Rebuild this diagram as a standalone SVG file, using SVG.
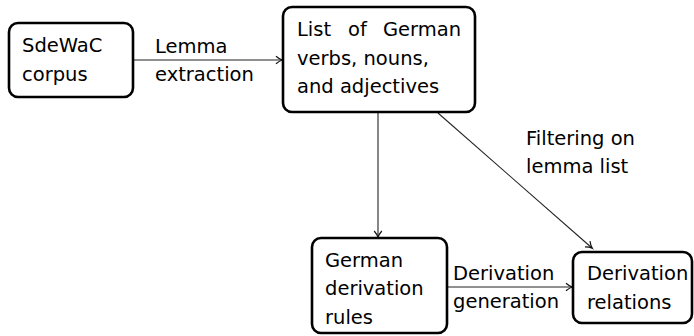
<svg xmlns="http://www.w3.org/2000/svg" width="694" height="336" viewBox="0 0 694 336">
<defs>
<style>
.box{fill:#fff;stroke:#000;stroke-width:2.6}
.t{font-family:"DejaVu Sans",sans-serif;font-size:19.5px;fill:#000}
.c{fill:none;stroke:#222;stroke-width:1.1}
</style>
<marker id="ah" markerWidth="10" markerHeight="10" refX="7.5" refY="5" orient="auto" markerUnits="userSpaceOnUse">
<path d="M1.5,1.2 Q5,4.2 7.8,5 Q5,5.8 1.5,8.8" fill="none" stroke="#111" stroke-width="1.2"/>
</marker>
</defs>
<rect width="694" height="336" fill="#fff"/>
<g id="connectors">
<line class="c" x1="133" y1="60" x2="282" y2="60" marker-end="url(#ah)"/>
<line class="c" x1="378" y1="112" x2="378" y2="237" marker-end="url(#ah)"/>
<line class="c" x1="438" y1="113" x2="592" y2="248" marker-end="url(#ah)"/>
<line class="c" x1="447" y1="287" x2="572" y2="287" marker-end="url(#ah)"/>
<text class="t" x="155" y="53">Lemma</text>
<text class="t" x="155" y="81">extraction</text>
<text class="t" x="526" y="145">Filtering on</text>
<text class="t" x="526" y="173">lemma list</text>
<text class="t" x="453" y="280">Derivation</text>
<text class="t" x="453" y="308">generation</text>
</g>
<g id="sdewac">
<rect class="box" x="9" y="23" width="124" height="74" rx="9"/>
<text class="t" x="22" y="52">SdeWaC</text>
<text class="t" x="22" y="81">corpus</text>
</g>
<g id="lemmalist">
<rect class="box" x="283" y="7" width="192" height="105" rx="9"/>
<text class="t" x="297" y="36">List</text>
<text class="t" x="348" y="36">of</text>
<text class="t" x="383" y="36">German</text>
<text class="t" x="297" y="65">verbs, nouns,</text>
<text class="t" x="297" y="93">and adjectives</text>
</g>
<g id="rules">
<rect class="box" x="312" y="238" width="135" height="95" rx="9"/>
<text class="t" x="325" y="267">German</text>
<text class="t" x="325" y="295">derivation</text>
<text class="t" x="325" y="324">rules</text>
</g>
<g id="relations">
<rect class="box" x="573" y="252" width="119" height="71" rx="9"/>
<text class="t" x="587" y="280">Derivation</text>
<text class="t" x="587" y="309">relations</text>
</g>
</svg>
